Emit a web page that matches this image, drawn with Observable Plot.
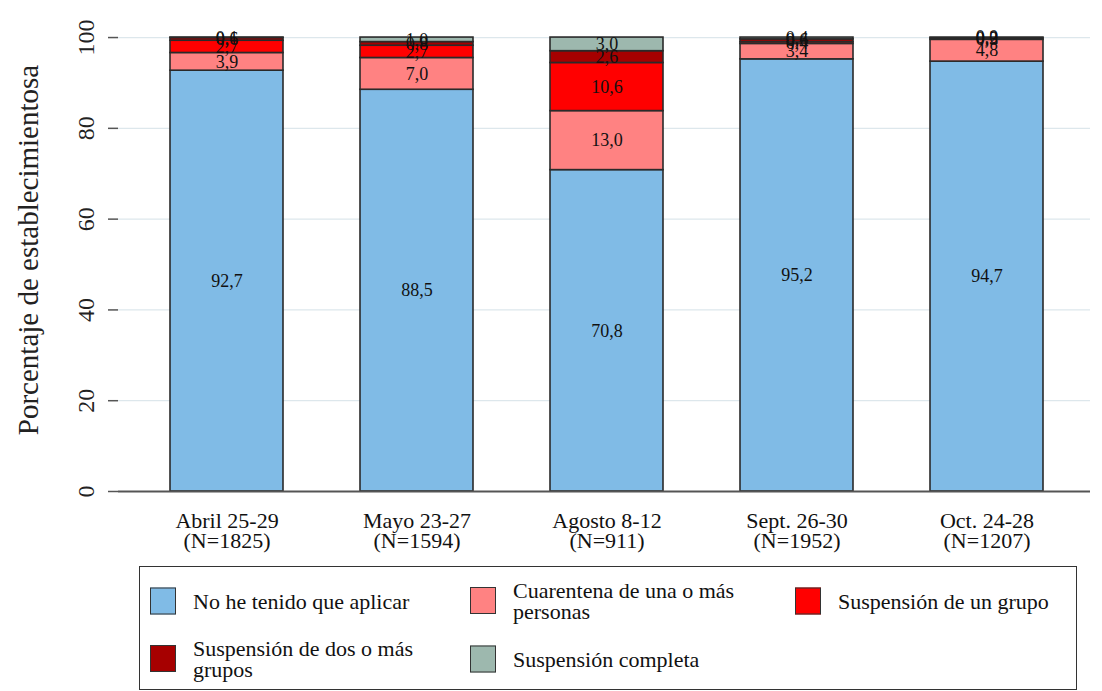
<!DOCTYPE html>
<html>
<head>
<meta charset="utf-8">
<script src="https://cdn.jsdelivr.net/npm/d3@7"></script>
<script src="https://cdn.jsdelivr.net/npm/@observablehq/plot@0.6"></script>
<style>
  body { margin: 0; background: #fff; font-family: "Liberation Serif", "DejaVu Serif", serif; }
  #legend {
    margin-left: 139px; margin-top: 6px; width: 938px; height: 124px;
    border: 1.5px solid #333; box-sizing: border-box; position: relative;
  }
  .item { position: absolute; display: flex; align-items: center; font-size: 22px; color: #111; line-height: 21px; transform: translateY(-50%); white-space: nowrap; }
  .sw { width: 26px; height: 27px; border: 1.5px solid #333; box-sizing: border-box; margin-right: 17px; flex: none; }
</style>
</head>
<body>
<div id="chart"></div>
<div id="legend"></div>
<script>
const periods = ["Abril 25-29\n(N=1825)", "Mayo 23-27\n(N=1594)", "Agosto 8-12\n(N=911)", "Sept. 26-30\n(N=1952)", "Oct. 24-28\n(N=1207)"];
const categories = ["No he tenido que aplicar", "Cuarentena de una o más personas", "Suspensión de un grupo", "Suspensión de dos o más grupos", "Suspensión completa"];
const legendLabels = ["No he tenido que aplicar", "Cuarentena de una o más<br>personas", "Suspensión de un grupo", "Suspensión de dos o más<br>grupos", "Suspensión completa"];
const colors = ["#80BBE6", "#FF8282", "#FF0000", "#A60000", "#9DB8AE"];
const noAplicar = [92.7, 88.5, 70.8, 95.2, 94.7];
const cuarentena = [3.9, 7.0, 13.0, 3.4, 4.8];
const suspUno = [2.7, 2.7, 10.6, 0.4, 0.3];
const suspDos = [0.6, 0.8, 2.6, 0.6, 0.2];
const suspCompleta = [0.1, 1.0, 3.0, 0.4, 0.0];
const yTicks = [0, 20, 40, 60, 80, 100];
const yTickLabels = ["0", "20", "40", "60", "80", "100"];
const yTitle = "Porcentaje de establecimientosa";

const series = [noAplicar, cuarentena, suspUno, suspDos, suspCompleta];
const data = [];
periods.forEach((p, i) => categories.forEach((c, j) => data.push({period: p, cat: c, v: series[j][i]})));
const tickData = yTicks.map((t, i) => ({t, label: yTickLabels[i]}));

const font = "Liberation Serif, DejaVu Serif, serif";
const chart = Plot.plot({
  width: 1102, height: 560,
  marginLeft: 118, marginRight: 12, marginTop: 8, marginBottom: 69,
  style: {fontFamily: font, background: "#fff"},
  x: {domain: periods, paddingInner: 0.405, paddingOuter: 0.26, align: 0.53, label: null},
  y: {domain: [0, 106.4], label: null, axis: null},
  color: {domain: categories, range: colors},
  marks: [
    Plot.gridY(yTicks.slice(1), {stroke: "#DDE7EC", strokeOpacity: 1, strokeWidth: 1.2}),
    Plot.barY(data, Plot.stackY({x: "period", y: "v", z: "cat", fill: "cat", order: categories, stroke: "#2a2a2a", strokeWidth: 1.6})),
    Plot.text(data, Plot.stackY({x: "period", y: "v", z: "cat", order: categories, text: d => d.v.toFixed(1).replace(".", ","), fontSize: 18, fill: "#111", fontFamily: font})),
    Plot.ruleY([0], {stroke: "#555", strokeWidth: 2}),
    Plot.ruleX([0], {frameAnchor: "left", stroke: "#555", strokeWidth: 2}),
    Plot.tickY(tickData, {y: "t", insetLeft: -10, insetRight: 972, stroke: "#555", strokeWidth: 1.5}),
    Plot.text(tickData, {y: "t", text: "label", frameAnchor: "left", rotate: -90, textAnchor: "middle", lineAnchor: "middle", fontSize: 24, fill: "#222", fontFamily: font}),
    Plot.text([yTitle], {text: d => d, frameAnchor: "left", dx: -90, rotate: -90, textAnchor: "middle", fontSize: 29, fill: "#222", fontFamily: font}),
    Plot.axisX({tickSize: 0, tickPadding: 22, fontSize: 22, fill: "#111", label: null, lineHeight: 0.92})
  ]
});
document.getElementById("chart").appendChild(chart);

// shift the vertical y tick labels left of the axis (x = 86)
d3.select(chart).selectAll("text")
  .filter(function() {
    const tr = this.getAttribute("transform") || "";
    return /rotate\(-90\)/.test(tr) && yTickLabels.includes(this.textContent);
  })
  .attr("transform", function() {
    return this.getAttribute("transform").replace(/translate\(\s*[-\d.e]+\s*,/, "translate(86,");
  });

const pos = [[10, 33.5], [330, 33.5], [655, 33.5], [10, 91.5], [330, 91.5]];
const lg = document.getElementById("legend");
categories.forEach((c, j) => {
  const it = document.createElement("div");
  it.className = "item";
  it.style.left = pos[j][0] + "px";
  it.style.top = pos[j][1] + "px";
  it.innerHTML = `<div class="sw" style="background:${colors[j]}"></div><div>${legendLabels[j]}</div>`;
  lg.appendChild(it);
});
</script>
</body>
</html>
